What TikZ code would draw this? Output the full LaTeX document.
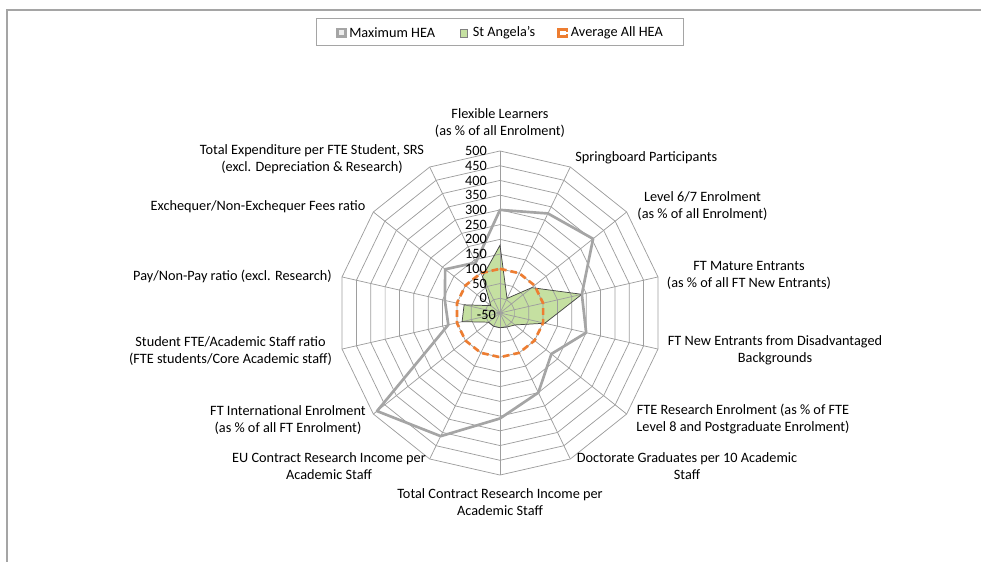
\documentclass[tikz,border=0pt]{standalone}
\usepackage{fontspec}
\setmainfont{Carlito}
\definecolor{maxgray}{RGB}{165,165,165}
\definecolor{angelagreen}{RGB}{197,224,161}
\definecolor{angelaedge}{RGB}{70,70,70}
\definecolor{avgorange}{RGB}{237,125,49}
\definecolor{gridgray}{RGB}{158,158,158}
\definecolor{framegray}{RGB}{165,165,165}
\tikzset{
  gridline/.style={draw=gridgray, line width=0.55pt},
  maxline/.style={draw=maxgray, line width=2pt, line join=round},
  angelaarea/.style={fill=angelagreen, draw=angelaedge, line width=0.55pt},
  avgline/.style={draw=avgorange, line width=2pt, dash pattern=on 5pt off 3pt},
  catlabel/.style={align=center, inner sep=0pt},
  ticklabel/.style={anchor=east, inner sep=0pt}
}

\begin{document}
\begin{tikzpicture}[x=0.75pt,y=0.75pt,font=\fontsize{10.7}{12.8}\selectfont]
	\pgfmathsetmacro{\cx}{500}
	\pgfmathsetmacro{\cy}{249}
	\pgfmathsetmacro{\st}{14.73}

	\useasboundingbox (0,0) rectangle (981,562);

	%Chart frame
	\draw[framegray, line width=1pt] (981,552) -- (7,552) -- (7,0);

	\coordinate (c) at (\cx,\cy);

	\begin{scope}[shift={(c)}]
	%St Angela's area, under the grid
	\fill[angelagreen] (90:{4.6*\st}) -- (64.29:{1.1*\st}) -- (38.57:{2.76*\st}) -- (12.86:{5.7*\st}) -- (-12.86:{3.12*\st}) -- (-38.57:{1.3*\st}) -- (-64.29:{1.06*\st}) -- (-90:{1*\st}) -- (-115.71:{1*\st}) -- (-141.43:{1*\st}) -- (-167.14:{2.64*\st}) -- (167.14:{2.5*\st}) -- (141.43:{0.8*\st}) -- (115.71:{2.74*\st}) -- cycle;

	%Rings
	\foreach \r in {1,...,11}
		\draw[gridline] (90:{\r*\st}) \foreach \k in {1,...,13} { -- ({90-\k*360/14}:{\r*\st}) } -- cycle;
	%Spokes
	\foreach \k in {0,...,13}
		\draw[gridline] (0,0) -- ({90-\k*360/14}:{11*\st});

	\draw[angelaarea, fill=none] (90:{4.6*\st}) -- (64.29:{1.1*\st}) -- (38.57:{2.76*\st}) -- (12.86:{5.7*\st}) -- (-12.86:{3.12*\st}) -- (-38.57:{1.3*\st}) -- (-64.29:{1.06*\st}) -- (-90:{1*\st}) -- (-115.71:{1*\st}) -- (-141.43:{1*\st}) -- (-167.14:{2.64*\st}) -- (167.14:{2.5*\st}) -- (141.43:{0.8*\st}) -- (115.71:{2.74*\st}) -- cycle;

	%Maximum HEA
	\draw[maxline] (90:{7*\st}) -- (64.29:{7.5*\st}) -- (38.57:{8.08*\st}) -- (12.86:{5.7*\st}) -- (-12.86:{6*\st}) -- (-38.57:{4.46*\st}) -- (-64.29:{6*\st}) -- (-90:{7.16*\st}) -- (-115.71:{9.28*\st}) -- (-141.43:{10.68*\st}) -- (-167.14:{3.6*\st}) -- (167.14:{3.84*\st}) -- (141.43:{4.76*\st}) -- (115.71:{3.8*\st}) -- cycle;

	%Average All HEA
	\draw[avgline] (90:{3*\st}) \foreach \k in {1,...,13} { -- ({90-\k*360/14}:{3*\st}) } -- cycle;
	\end{scope}

	%Scale labels
	\draw (\cx-4, \cy-2) node[ticklabel] (tickm50) {-50};
	\draw (\cx-13, \cy+1*\st) node[ticklabel] (tick0) {0};
	\draw (\cx-13, \cy+2*\st) node[ticklabel] (tick50) {50};
	\draw (\cx-13, \cy+3*\st) node[ticklabel] (tick100) {100};
	\draw (\cx-13, \cy+4*\st) node[ticklabel] (tick150) {150};
	\draw (\cx-13, \cy+5*\st) node[ticklabel] (tick200) {200};
	\draw (\cx-13, \cy+6*\st) node[ticklabel] (tick250) {250};
	\draw (\cx-13, \cy+7*\st) node[ticklabel] (tick300) {300};
	\draw (\cx-13, \cy+8*\st) node[ticklabel] (tick350) {350};
	\draw (\cx-13, \cy+9*\st) node[ticklabel] (tick400) {400};
	\draw (\cx-13, \cy+10*\st) node[ticklabel] (tick450) {450};
	\draw (\cx-13, \cy+11*\st) node[ticklabel] (tick500) {500};

	%Category labels round the chart
	\draw (500,438.5) node[catlabel] (flexible) {Flexible Learners\\(as \% of all Enrolment)};
	\draw (575,404) node[catlabel, anchor=west] (springboard) {Springboard Participants};
	\draw (702.5,355.5) node[catlabel] (levelsix) {Level 6/7 Enrolment\\(as \% of all Enrolment)};
	\draw (749,286.5) node[catlabel] (mature) {FT Mature Entrants\\(as \% of all FT New Entrants)};
	\draw (775,211.5) node[catlabel] (disadv) {FT New Entrants from Disadvantaged\\Backgrounds};
	\draw (743,143) node[catlabel] (fteresearch) {FTE Research Enrolment (as \% of FTE\\Level 8 and Postgraduate Enrolment)};
	\draw (687,95.5) node[catlabel] (doctorate) {Doctorate Graduates per 10 Academic\\Staff};
	\draw (500,60) node[catlabel] (totalcontract) {Total Contract Research Income per\\Academic Staff};
	\draw (329,95.5) node[catlabel] (eucontract) {EU Contract Research Income per\\Academic Staff};
	\draw (288,142) node[catlabel] (international) {FT International Enrolment\\(as \% of all FT Enrolment)};
	\draw (230.5,211) node[catlabel] (staffratio) {Student FTE/Academic Staff ratio\\(FTE students/Core Academic staff)};
	\draw (232.5,286) node[catlabel] (payratio) {Pay/Non-Pay ratio (excl. Research)};
	\draw (258,355) node[catlabel] (exchequer) {Exchequer/Non-Exchequer Fees ratio};
	\draw (312,402.5) node[catlabel] (expenditure) {Total Expenditure per FTE Student, SRS\\(excl. Depreciation \& Research)};

	%Legend
	\draw[framegray, line width=0.75pt] (316.7,543) rectangle (683.3,516.3);
	\draw[maxgray, line width=1.6pt, fill=gray!15] (337.5,525.5) rectangle (345.5,533);
	\draw (349,529.5) node[anchor=west, inner sep=0pt] (maxkey) {Maximum HEA};
	\draw[angelaarea, draw=gray] (460,525) rectangle (467,533);
	\draw (472.5,529.5) node[anchor=west, inner sep=0pt] (angelakey) {St Angela's};
	\draw[avgorange, line width=2pt] (567,529.8) -- (567,532.5) -- (558.5,532.5) -- (558.5,525.5) -- (567,525.5) -- (567,527.6);
	\draw (570.7,529.5) node[anchor=west, inner sep=0pt] (avgkey) {Average All HEA};

\end{tikzpicture}
\end{document}
